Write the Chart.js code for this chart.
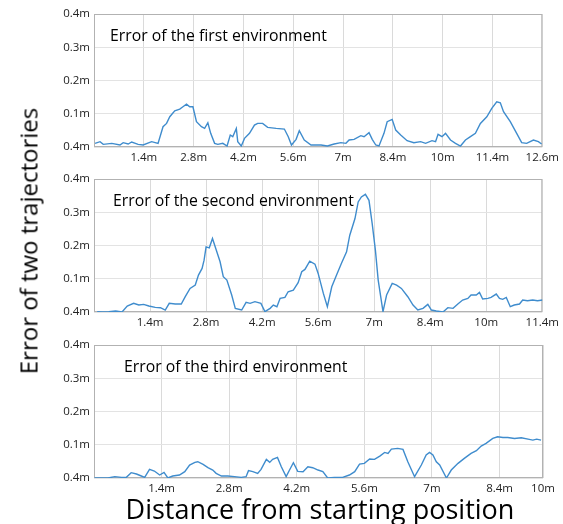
<!DOCTYPE html>
<html lang="en">
<head>
  <meta charset="UTF-8">
  <title>Trajectory error</title>
  <style>
    body { margin:0; background:#fff; font-family:"Open Sans", sans-serif; }
    .wrap { position:relative; width:563px; height:524px; overflow:hidden; }
    .wrap canvas { position:absolute; left:0; }
    .ytitle { position:absolute; left:28px; top:241px; transform:translate(-50%,-50%) rotate(-90deg); font-size:24px; white-space:nowrap; color:#000; }
    .xtitle { position:absolute; left:320px; top:508px; transform:translate(-50%,-50%); font-size:27px; white-space:nowrap; color:#000; }
  </style>
</head>
<body>
  <div class="wrap">
    <canvas id="env1" width="563" height="170" style="top:0"></canvas>
    <canvas id="env2" width="563" height="170" style="top:165px"></canvas>
    <canvas id="env3" width="563" height="170" style="top:331px"></canvas>
    <div class="ytitle">Error of two trajectories</div>
    <div class="xtitle">Distance from starting position</div>
  </div>
  <script src="https://cdn.jsdelivr.net/npm/chart.js"></script>
  <script>
    // first environment
    const env1X = [0.03,0.17,0.26,0.50,0.73,0.82,0.96,1.06,1.24,1.38,1.62,1.80,1.94,2.04,2.13,2.27,2.41,2.50,2.60,2.69,
      2.78,2.88,3.02,3.11,3.20,3.28,3.39,3.48,3.62,3.74,3.83,3.90,4.00,4.04,4.14,4.23,4.37,4.51,4.60,4.74,
      4.88,5.12,5.35,5.46,5.55,5.68,5.77,5.91,6.10,6.38,6.56,6.75,6.94,7.08,7.17,7.31,7.50,7.59,7.73,7.82,
      7.92,8.01,8.15,8.24,8.38,8.48,8.62,8.80,8.99,9.18,9.32,9.50,9.60,9.67,9.78,9.88,10.02,10.16,10.30,10.44,
      10.58,10.72,10.86,11.04,11.18,11.32,11.42,11.51,11.70,11.88,12.02,12.16,12.35,12.49,12.58];
    const env1Err = [0.011,0.016,0.008,0.011,0.006,0.013,0.009,0.015,0.008,0.006,0.016,0.011,0.061,0.071,0.091,0.109,0.114,0.121,0.129,0.121,
      0.121,0.076,0.061,0.056,0.073,0.041,0.011,0.008,0.011,0.003,0.036,0.031,0.056,0.016,0.003,0.026,0.041,0.066,0.071,0.071,
      0.059,0.056,0.054,0.031,0.006,0.023,0.049,0.021,0.006,0.006,0.003,0.009,0.013,0.011,0.021,0.023,0.034,0.031,0.043,0.023,
      0.006,0.003,0.041,0.076,0.083,0.051,0.036,0.019,0.013,0.016,0.011,0.019,0.016,0.038,0.031,0.041,0.021,0.011,0.003,0.021,
      0.031,0.041,0.071,0.091,0.116,0.136,0.133,0.106,0.076,0.041,0.013,0.011,0.021,0.016,0.009];
    const env1Ticks = [1.4,2.8,4.2,5.6,7,8.4,9.8,11.2,12.6];
    const env1Labels = ['1.4m','2.8m','4.2m','5.6m','7m','8.4m','10m','11.4m','12.6m'];

    // second environment
    const env2X = [0.08,0.20,0.37,0.54,0.70,0.83,0.99,1.12,1.24,1.37,1.53,1.66,1.78,1.88,2.03,2.18,2.28,2.40,2.53,2.61,
      2.70,2.75,2.80,2.88,2.96,3.05,3.15,3.23,3.32,3.44,3.53,3.69,3.80,3.90,4.02,4.17,4.27,4.40,4.48,4.57,
      4.65,4.77,4.85,4.98,5.10,5.19,5.27,5.39,5.52,5.60,5.73,5.83,5.94,6.06,6.18,6.31,6.39,6.52,6.60,6.68,
      6.78,6.87,6.95,7.03,7.10,7.22,7.31,7.45,7.56,7.68,7.84,7.97,8.09,8.22,8.34,8.43,8.55,8.72,8.84,8.97,
      9.09,9.21,9.34,9.42,9.55,9.63,9.71,9.84,9.92,10.05,10.13,10.21,10.30,10.40,10.50,10.63,10.71,10.83,10.96,11.08,11.21];
    const env2Err = [0.001,0,0.001,0.003,0,0.018,0.026,0.021,0.023,0.018,0.014,0.013,0.006,0.026,0.024,0.024,0.046,0.071,0.081,0.111,
      0.131,0.156,0.196,0.193,0.221,0.188,0.151,0.106,0.096,0.051,0.011,0.006,0.029,0.026,0.031,0.026,0.001,0.011,0.021,0.016,
      0.041,0.044,0.061,0.066,0.088,0.121,0.128,0.153,0.144,0.116,0.056,0.016,0.076,0.111,0.146,0.181,0.231,0.281,0.331,0.346,
      0.354,0.336,0.266,0.186,0.096,0.001,0.051,0.086,0.081,0.071,0.046,0.021,0.006,0.011,0.023,0.006,0.003,0,0.013,0.011,
      0.024,0.036,0.041,0.051,0.051,0.059,0.039,0.041,0.044,0.054,0.041,0.038,0.044,0.016,0.021,0.024,0.036,0.034,0.036,0.034,0.036];
    const env2Ticks = [1.4,2.8,4.2,5.6,7,8.4,9.8,11.2];
    const env2Labels = ['1.4m','2.8m','4.2m','5.6m','7m','8.4m','10m','11.4m'];

    // third environment
    const env3X = [0.01,0.15,0.29,0.43,0.57,0.67,0.77,0.88,0.98,1.05,1.15,1.25,1.36,1.45,1.53,1.63,1.77,1.88,1.98,2.09,
      2.15,2.26,2.36,2.46,2.53,2.64,2.77,2.91,3.05,3.15,3.20,3.29,3.39,3.46,3.57,3.64,3.70,3.80,3.88,3.98,
      4.05,4.13,4.22,4.33,4.43,4.53,4.64,4.74,4.84,4.98,5.15,5.29,5.40,5.50,5.60,5.71,5.81,5.92,6.02,6.09,
      6.16,6.29,6.40,6.50,6.64,6.78,6.88,6.95,7.02,7.09,7.16,7.30,7.40,7.54,7.67,7.81,7.92,8.02,8.12,8.26,
      8.36,8.47,8.57,8.71,8.85,8.99,9.09,9.17,9.26];
    const env3Err = [0,0,0,0.004,0.002,0.002,0.016,0.012,0.006,0.002,0.026,0.021,0.009,0.017,0,0.006,0.009,0.019,0.039,0.047,
      0.049,0.041,0.031,0.024,0.014,0.006,0.006,0.004,0.002,0.004,0.022,0.019,0.014,0.026,0.056,0.047,0.056,0.062,0.034,0.004,
      0.024,0.046,0.02,0.019,0.034,0.031,0.024,0.019,0,0.002,0.002,0.009,0.019,0.042,0.044,0.057,0.056,0.066,0.077,0.074,
      0.087,0.089,0.086,0.049,0.004,0.039,0.069,0.077,0.069,0.049,0.039,0,0.024,0.044,0.059,0.074,0.082,0.096,0.104,0.119,
      0.124,0.122,0.122,0.119,0.121,0.117,0.114,0.117,0.114];
    const env3Ticks = [1.4,2.8,4.2,5.6,7,8.4,9.3];
    const env3Labels = ['1.4m','2.8m','4.2m','5.6m','7m','8.4m','10m'];

    // y labels per 0.1 step (bottom one is printed as 0.4m too)
    const yLabels = { 0: '0.4m', 1: '0.1m', 2: '0.2m', 3: '0.3m', 4: '0.4m' };

    // frame around the plot area + caption in the top-left corner
    const framePlugin = {
      id: 'frame',
      beforeDatasetsDraw(chart) {
        const { ctx, chartArea: a } = chart;
        ctx.save();
        ctx.strokeStyle = '#b2b2b2';
        ctx.lineWidth = 1;
        ctx.strokeRect(a.left + 0.5, a.top + 0.5, a.right - a.left - 1, a.bottom - a.top - 1);
        ctx.restore();
      },
      afterDraw(chart, args, opts) {
        const { ctx, chartArea: a } = chart;
        ctx.save();
        ctx.font = '15.8px "Open Sans"';
        ctx.fillStyle = '#000';
        ctx.textBaseline = 'middle';
        ctx.fillText(opts.text, a.left + opts.dx, a.top + opts.dy);
        ctx.restore();
      }
    };

    function makeChart(id, xs, ys, xMax, ticks, labels, caption, dx, rightPad) {
      return new Chart(document.getElementById(id), {
        type: 'line',
        data: {
          datasets: [{
            data: xs.map((x, i) => ({ x, y: ys[i] })),
            borderColor: '#3f8ccd',
            borderWidth: 1.4,
            pointRadius: 0,
            tension: 0
          }]
        },
        options: {
          responsive: false,
          animation: false,
          devicePixelRatio: 1,
          layout: { padding: { top: 14, right: rightPad, left: 0, bottom: 0 } },
          plugins: {
            legend: { display: false },
            tooltip: { enabled: false },
            frame: { text: caption, dx: dx, dy: 22 }
          },
          scales: {
            x: {
              type: 'linear',
              min: 0,
              max: xMax,
              afterBuildTicks: s => { s.ticks = ticks.map(v => ({ value: v })); },
              afterFit: s => { s.height = 23; },
              grid: { color: '#dadada', drawTicks: false },
              border: { display: false },
              ticks: {
                autoSkip: false,
                maxRotation: 0,
                padding: 4,
                color: '#222',
                font: { family: 'Open Sans', size: 11.5 },
                callback: (v, i) => labels[i]
              }
            },
            y: {
              min: 0,
              max: 0.4,
              afterBuildTicks: s => {
                s.ticks = [0, 0.05, 0.1, 0.15, 0.2, 0.25, 0.3, 0.35, 0.4].map(v => ({ value: v }));
              },
              afterFit: s => { s.width = 94; },
              grid: { color: '#e3e3e3', drawTicks: false },
              border: { display: false },
              ticks: {
                padding: 4,
                color: '#222',
                font: { family: 'Open Sans', size: 11.5 },
                callback: v => {
                  const k = Math.round(v * 20);
                  return k % 2 === 0 ? yLabels[k / 2] : '';
                }
              }
            }
          }
        },
        plugins: [framePlugin]
      });
    }

    makeChart('env1', env1X, env1Err, 12.6, env1Ticks, env1Labels, 'Error of the first environment', 16, 19);
    makeChart('env2', env2X, env2Err, 11.2, env2Ticks, env2Labels, 'Error of the second environment', 19, 20);
    makeChart('env3', env3X, env3Err, 9.3, env3Ticks, env3Labels, 'Error of the third environment', 30, 20);
  </script>
</body>
</html>
